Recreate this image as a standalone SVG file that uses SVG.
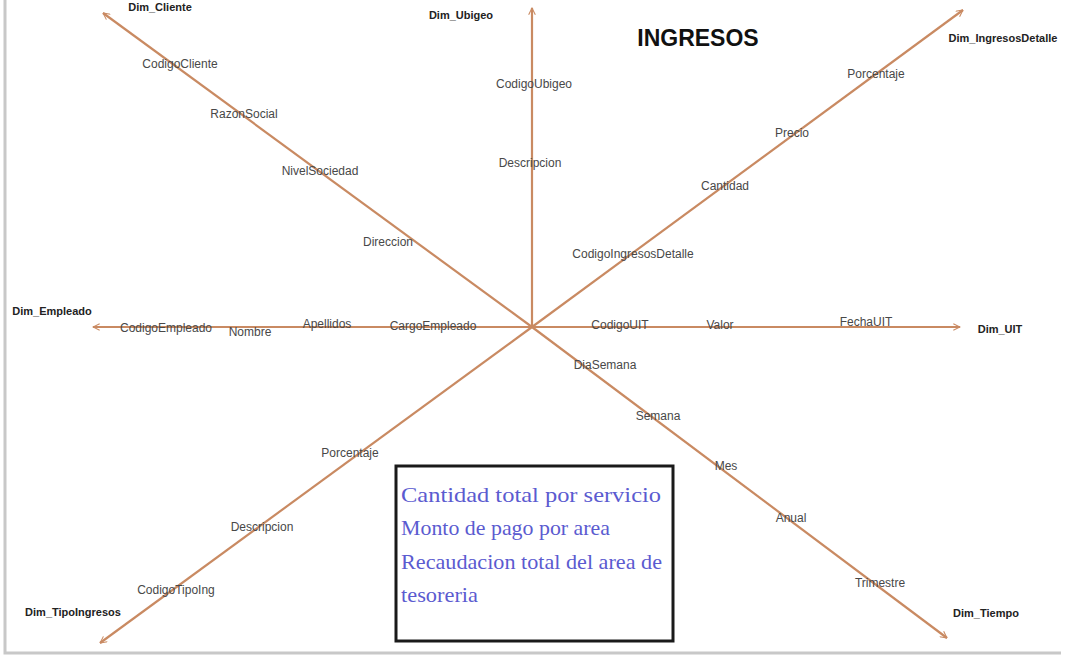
<svg xmlns="http://www.w3.org/2000/svg" width="1066" height="657" viewBox="0 0 1066 657">
  <style>
    .axis { stroke: #c98a62; stroke-width: 2.2; fill: none; marker-end: url(#tip); }
    .attr { font-family: "Liberation Sans", Arial, sans-serif; font-size: 12px; fill: #484848; text-anchor: middle; }
    .dim { font-family: "Liberation Sans", Arial, sans-serif; font-size: 11px; font-weight: bold; fill: #222; text-anchor: middle; }
    .title { font-family: "Liberation Sans", Arial, sans-serif; font-size: 23px; font-weight: bold; fill: #111; text-anchor: middle; }
    .note { font-family: "Liberation Serif", "Times New Roman", serif; font-size: 22px; fill: #5b5bd0; }
  </style>
  <defs>
    <marker id="tip" viewBox="0 0 12 12" refX="11" refY="6" markerWidth="8" markerHeight="8" markerUnits="userSpaceOnUse" orient="auto">
      <path d="M1,1 L11,6 L1,11" fill="none" stroke="#c98a62" stroke-width="1.6"/>
    </marker>
  </defs>

  <rect width="1066" height="657" fill="#ffffff"/>
  <!-- page frame -->
  <path d="M5,0 V653 H1061" fill="none" stroke="#c8c8c8" stroke-width="3"/>

  <!-- star axes from the fact centre -->
  <g id="connectors">
    <line class="axis" x1="532" y1="327" x2="532" y2="8"/>
    <line class="axis" x1="532" y1="327" x2="103" y2="13"/>
    <line class="axis" x1="532" y1="327" x2="963" y2="10"/>
    <line class="axis" x1="532" y1="327" x2="93" y2="327"/>
    <line class="axis" x1="532" y1="327" x2="960" y2="327"/>
    <line class="axis" x1="532" y1="327" x2="100" y2="643"/>
    <line class="axis" x1="532" y1="327" x2="947" y2="638"/>
  </g>

  <text class="title" x="698" y="46">INGRESOS</text>

  <g id="dim-cliente">
    <text class="dim" x="160" y="11">Dim_Cliente</text>
    <text class="attr" x="180" y="68">CodigoCliente</text>
    <text class="attr" x="244" y="118">RazonSocial</text>
    <text class="attr" x="320" y="175">NivelSociedad</text>
    <text class="attr" x="388" y="246">Direccion</text>
  </g>

  <g id="dim-ubigeo">
    <text class="dim" x="461" y="19">Dim_Ubigeo</text>
    <text class="attr" x="534" y="88">CodigoUbigeo</text>
    <text class="attr" x="530" y="167">Descripcion</text>
  </g>

  <g id="dim-ingresosdetalle">
    <text class="dim" x="1003" y="42">Dim_IngresosDetalle</text>
    <text class="attr" x="876" y="78">Porcentaje</text>
    <text class="attr" x="792" y="137">Precio</text>
    <text class="attr" x="725" y="190">Cantidad</text>
    <text class="attr" x="633" y="258">CodigoIngresosDetalle</text>
  </g>

  <g id="dim-empleado">
    <text class="dim" x="52" y="315">Dim_Empleado</text>
    <text class="attr" x="166" y="332">CodigoEmpleado</text>
    <text class="attr" x="250" y="336">Nombre</text>
    <text class="attr" x="327" y="328">Apellidos</text>
    <text class="attr" x="433" y="330">CargoEmpleado</text>
  </g>

  <g id="dim-uit">
    <text class="dim" x="1000" y="333">Dim_UIT</text>
    <text class="attr" x="620" y="329">CodigoUIT</text>
    <text class="attr" x="720" y="329">Valor</text>
    <text class="attr" x="866" y="326">FechaUIT</text>
  </g>

  <g id="dim-tiempo">
    <text class="dim" x="986" y="617">Dim_Tiempo</text>
    <text class="attr" x="605" y="369">DiaSemana</text>
    <text class="attr" x="658" y="420">Semana</text>
    <text class="attr" x="726" y="470">Mes</text>
    <text class="attr" x="791" y="522">Anual</text>
    <text class="attr" x="880" y="587">Trimestre</text>
  </g>

  <g id="dim-tipoingresos">
    <text class="dim" x="73" y="616">Dim_TipoIngresos</text>
    <text class="attr" x="350" y="457">Porcentaje</text>
    <text class="attr" x="262" y="531">Descripcion</text>
    <text class="attr" x="176" y="594">CodigoTipoIng</text>
  </g>

  <g id="indicadores">
    <rect x="396" y="466" width="277" height="175" fill="#ffffff" stroke="#1a1a1a" stroke-width="3"/>
    <text class="note" x="401" y="502" textLength="260" lengthAdjust="spacingAndGlyphs">Cantidad total por servicio</text>
    <text class="note" x="401" y="535" textLength="209" lengthAdjust="spacingAndGlyphs">Monto de pago por area</text>
    <text class="note" x="401" y="569" textLength="261" lengthAdjust="spacingAndGlyphs">Recaudacion total del area de</text>
    <text class="note" x="401" y="602" textLength="77" lengthAdjust="spacingAndGlyphs">tesoreria</text>
  </g>
</svg>
